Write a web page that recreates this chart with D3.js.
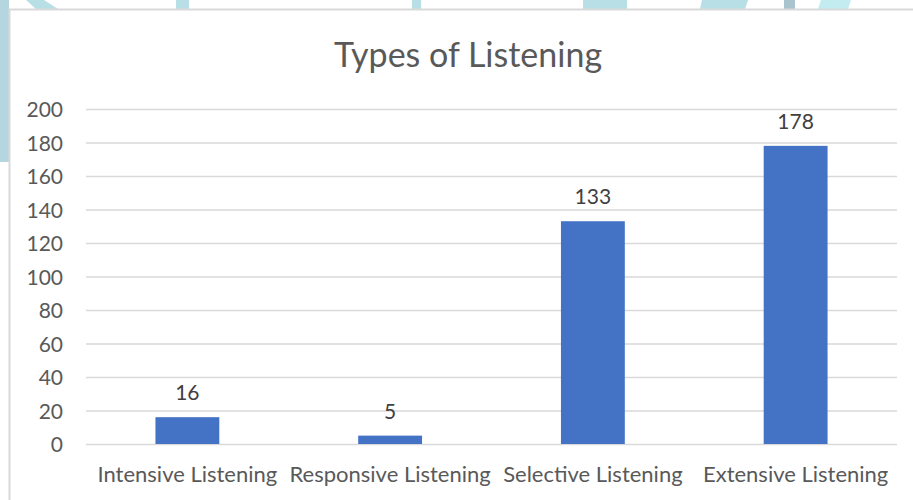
<html>
<head>
<meta charset="utf-8">
<title>Types of Listening</title>
<style>
  body { margin: 0; background: #fff; }
  .grid line { stroke: #d9d9d9; stroke-width: 1.3; }
  .grid path, .yaxis path, .xaxis path { display: none; }
  .yaxis text, .xaxis text { fill: #595959; font-family: Lato, "Open Sans", sans-serif; }
</style>
<script src="https://d3js.org/d3.v7.min.js"></script>
</head>
<body>
<script>
// data
var categories = ["Intensive Listening", "Responsive Listening", "Selective Listening", "Extensive Listening"];
var counts = [16, 5, 133, 178];
var yTicks = [0, 20, 40, 60, 80, 100, 120, 140, 160, 180, 200];
var title = "Types of Listening";

var width = 913, height = 500;
var plot = {left: 86, right: 897, top: 109, bottom: 444};

var svg = d3.select("body").append("svg")
  .attr("width", width)
  .attr("height", height);

// decoration behind the frame (the slide behind the chart)
var deco = svg.append("g").attr("fill", "#b9dfe6");
deco.append("rect").attr("x", 0).attr("y", 0).attr("width", 9).attr("height", 162).attr("fill", "#b5d6df");
deco.append("path").attr("d", "M26,0 L44,0 L58,9 L36,9 Z");
deco.append("rect").attr("x", 176).attr("y", 0).attr("width", 13).attr("height", 9);
deco.append("rect").attr("x", 412).attr("y", 0).attr("width", 9).attr("height", 9);
deco.append("rect").attr("x", 583).attr("y", 0).attr("width", 44).attr("height", 9);
deco.append("path").attr("d", "M702,0 L748,0 L745,9 L700,9 Z");
deco.append("rect").attr("x", 784).attr("y", 0).attr("width", 11).attr("height", 9).attr("fill", "#a9c4cf");
deco.append("path").attr("d", "M821,0 L851,0 L848,9 L818,9 Z").attr("fill", "#c3ecf0");

// chart frame
svg.append("path")
  .attr("d", "M9.5," + height + " L9.5,9.5 L" + width + ",9.5")
  .attr("fill", "none")
  .attr("stroke", "#d9d9d9")
  .attr("stroke-width", 2);

var x = d3.scaleBand()
  .domain(categories)
  .range([plot.left, plot.right])
  .padding(0);

var y = d3.scaleLinear()
  .domain([0, 200])
  .range([plot.bottom, plot.top]);

// gridlines
svg.append("g")
  .attr("class", "grid")
  .attr("transform", "translate(" + plot.left + ",0)")
  .call(d3.axisLeft(y).tickValues(yTicks).tickSize(-(plot.right - plot.left)).tickFormat(""));

// y labels
svg.append("g")
  .attr("class", "yaxis")
  .attr("transform", "translate(63,0)")
  .call(d3.axisLeft(y).tickValues(yTicks).tickSize(0).tickPadding(0))
  .selectAll("text")
  .attr("font-size", "21px")
  .attr("dy", "0.36em");

// x labels
svg.append("g")
  .attr("class", "xaxis")
  .attr("transform", "translate(0," + plot.bottom + ")")
  .call(d3.axisBottom(x).tickSize(0).tickPadding(22))
  .selectAll("text")
  .attr("font-size", "22px");

// bars
var barW = x.bandwidth() * 0.315;
svg.selectAll("rect.bar")
  .data(counts)
  .enter()
  .append("rect")
  .attr("class", "bar")
  .attr("x", function(d, i){ return x(categories[i]) + x.bandwidth() / 2 - barW / 2; })
  .attr("y", function(d){ return y(d); })
  .attr("width", barW)
  .attr("height", function(d){ return y(0) - y(d); })
  .attr("fill", "#4472c4");

// value labels
svg.selectAll("text.val")
  .data(counts)
  .enter()
  .append("text")
  .attr("class", "val")
  .attr("x", function(d, i){ return x(categories[i]) + x.bandwidth() / 2; })
  .attr("y", function(d){ return y(d) - 17; })
  .attr("text-anchor", "middle")
  .attr("font-family", "Lato, 'Open Sans', sans-serif")
  .attr("font-size", "21px")
  .attr("fill", "#404040")
  .text(function(d){ return d; });

// title
svg.append("text")
  .attr("x", 468)
  .attr("y", 67)
  .attr("text-anchor", "middle")
  .attr("font-family", "Lato, 'Open Sans', sans-serif")
  .attr("font-size", "34px")
  .attr("fill", "#595959")
  .text(title);
</script>
</body>
</html>
